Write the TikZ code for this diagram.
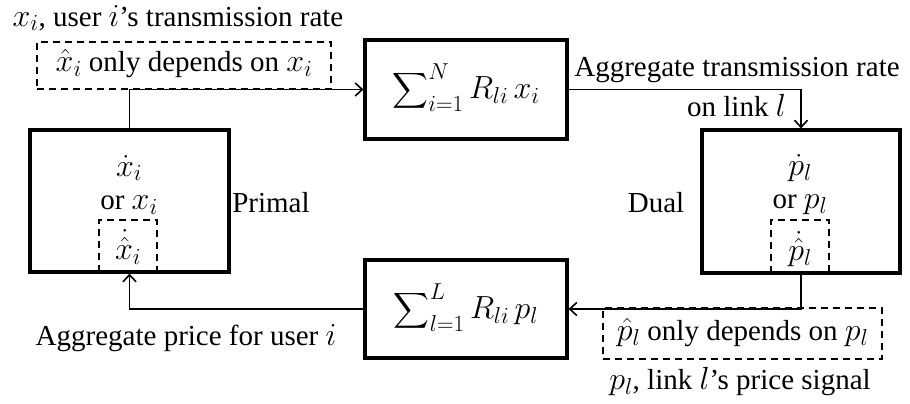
\RequirePackage{fix-cm}
\documentclass[tikz,border=0pt]{standalone}
\usepackage{amsmath}
\usepackage{fontspec}
\setmainfont{Liberation Serif}
\DeclareMathSizes{29}{32}{23}{18}
\usetikzlibrary{arrows.meta,positioning}
\tikzset{
  blk/.style={draw, line width=3.2pt, minimum width=#1, inner sep=0pt},
  dbox/.style={draw, dashed, line width=1.6pt, dash pattern=on 7pt off 5pt, inner sep=0pt},
  conn/.style={line width=1.8pt, -{Straight Barb[length=7pt,width=13pt,line width=1.6pt]}},
  txt/.style={inner sep=0pt, font=\fontsize{29}{34}\selectfont},
}
\begin{document}
\begin{tikzpicture}[x=1pt,y=-1pt]
\useasboundingbox (0,0) rectangle (910,404);
\fill[white] (0,0) rectangle (910,404);
% main boxes
\node[blk=199pt, minimum height=142pt] (L) at (129.5,201) {};
\node[blk=202pt, minimum height=99pt] (T) at (466,89.5) {};
\node[blk=202pt, minimum height=98pt] (B) at (466,309) {};
\node[blk=198pt, minimum height=143pt] (R) at (801,201.5) {};
% box contents
\node[txt] (Tt) at (466,88) {$\displaystyle\sum\nolimits_{i=1}^{N} R_{li}\,x_i$};
\node[txt] (Bt) at (466,308) {$\displaystyle\sum\nolimits_{l=1}^{L} R_{li}\,p_l$};
\node[txt] (L1) at (129,168) {$\dot{x}_i$};
\node[txt] (L2) at (129,205) {or $x_i$};
\node[txt] (L3) at (128,247) {$\dot{\hat{x}}_i$};
\node[txt] (R1) at (800,168) {$\dot{p}_l$};
\node[txt] (R2) at (800,205) {or $p_l$};
\node[txt] (R3) at (800,249) {$\dot{\hat{p}}_l$};
% inner dashed boxes (three sides)
\coordinate (ila) at (99,272); \coordinate (ilb) at (99,220);
\coordinate (ilc) at (157,220); \coordinate (ild) at (157,270);
\draw[dbox] (ila) -- (ilb) -- (ilc) -- (ild);
\coordinate (ira) at (771,273); \coordinate (irb) at (771,220);
\coordinate (irc) at (829,220); \coordinate (ird) at (829,271);
\draw[dbox] (ira) -- (irb) -- (irc) -- (ird);
% outer dashed boxes
\node[dbox, minimum width=294pt, minimum height=47pt] (DTL) at (184,65.5) {};
\node[txt] (DTLt) at (184,64) {$\hat{x}_i$ only depends on $x_i$};
\node[dbox, minimum width=279pt, minimum height=51pt] (DBR) at (742.5,333.5) {};
\node[txt] (DBRt) at (742.5,333) {$\hat{p}_l$ only depends on $p_l$};
% labels
\node[txt] (xl) at (178,18) {$x_i$, user $i$'s transmission rate};
\node[txt] (atr) at (737,70) {Aggregate transmission rate};
\node[txt, anchor=east] (onl) at (786,106) {on link $l$};
\node[txt] (pri) at (271,203) {Primal};
\node[txt] (dua) at (656,203) {Dual};
\node[txt] (apu) at (186,338) {Aggregate price for user $i$};
\node[txt] (pls) at (740,382) {$p_l$, link $l$'s price signal};
% connectors
\draw[conn] (L.north) |- (T.west);
\draw[conn] (T.east) -| (R.north);
\draw[conn] (R.south) |- (B.east);
\draw[conn] (B.west) -| (L.south);
\end{tikzpicture}
\end{document}
